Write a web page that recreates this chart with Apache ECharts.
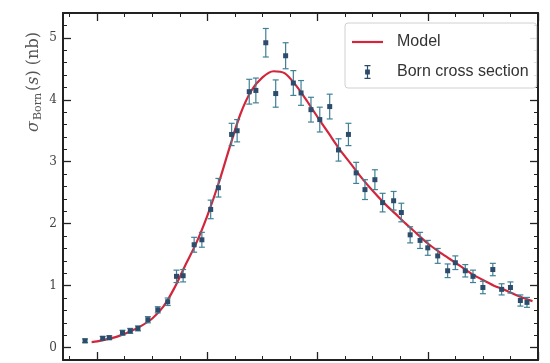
<!DOCTYPE html>
<html><head><meta charset="utf-8">
<script src="https://cdn.jsdelivr.net/npm/echarts@6/dist/echarts.min.js"></script>
<style>html,body{margin:0;padding:0;background:#fff}#c{width:550px;height:363px}</style>
</head><body><div id="c"></div>
<script>
// Measured points (sqrt(s), GeV) and Born cross section (nb)
const energies = [3.789,3.805,3.811,3.823,3.830,3.837,3.846,3.855,3.864,
  3.872,3.878,3.888,3.895,3.903,3.910,3.922,3.927,3.938,3.944,
  3.953,3.962,3.971,3.978,3.985,3.994,4.002,4.011,4.019,4.028,
  4.035,4.043,4.052,4.059,4.069,4.076,4.084,4.093,4.100,4.109,
  4.118,4.125,4.134,4.141,4.150,4.159,4.167,4.175,4.184,4.190];
const sigma = [0.11,0.15,0.16,0.24,0.27,0.31,0.45,0.61,0.74,
  1.15,1.16,1.66,1.74,2.23,2.58,3.44,3.50,4.13,4.15,
  4.92,4.10,4.71,4.27,4.11,3.84,3.68,3.89,3.19,3.44,
  2.82,2.55,2.71,2.34,2.37,2.18,1.82,1.73,1.61,1.48,
  1.24,1.37,1.24,1.15,0.97,1.26,0.94,0.97,0.76,0.73];
const sigmaErr = [0.03,0.03,0.03,0.04,0.04,0.04,0.05,0.05,0.06,
  0.10,0.10,0.12,0.12,0.15,0.15,0.18,0.18,0.20,0.20,
  0.23,0.22,0.21,0.20,0.20,0.20,0.20,0.20,0.18,0.18,
  0.17,0.16,0.16,0.15,0.15,0.15,0.13,0.13,0.12,0.12,
  0.11,0.11,0.10,0.10,0.10,0.10,0.09,0.09,0.09,0.08];
// Model curve
const modelX = [3.795,3.80,3.81,3.82,3.83,3.84,3.85,3.86,3.87,3.88,3.89,3.90,3.91,3.92,3.93,3.94,3.95,3.96,3.97,3.98,3.99,
  4.00,4.01,4.02,4.03,4.04,4.05,4.06,4.07,4.08,4.09,4.10,4.11,4.12,4.13,4.14,4.15,4.16,4.17,4.18,4.19,4.195];
const modelY = [0.09,0.10,0.14,0.19,0.26,0.35,0.47,0.66,0.96,1.33,1.69,2.13,2.64,3.22,3.77,4.15,4.36,4.46,4.43,4.24,3.99,
  3.72,3.46,3.20,2.97,2.74,2.53,2.34,2.17,2.00,1.84,1.68,1.55,1.43,1.31,1.19,1.09,1.00,0.93,0.85,0.78,0.75];
// Ticks
const yMajorTicks = [0,1,2,3,4,5];
const yMinorTicks = [-0.2,0.2,0.4,0.6,0.8,1.2,1.4,1.6,1.8,2.2,2.4,2.6,2.8,3.2,3.4,3.6,3.8,4.2,4.4,4.6,4.8,5.2];
const xMajorTicks = [3.8,3.9,4.0,4.1,4.2];
const xMinorTicks = [3.775,3.825,3.85,3.875,3.925,3.95,3.975,4.025,4.05,4.075,4.125,4.15,4.175];
const xMin = 3.769, xMax = 4.2, yMin = -0.2, yMax = 5.4;

const axisColor = '#222';
function mkAxis(position, min, max, ticks, len, showLine, showLabel) {
  return {
    type: 'value', position, min, max, offset: 0,
    axisLine: {show: showLine, onZero: false, lineStyle: {color: axisColor, width: 2}},
    axisTick: {show: true, inside: true, length: len, customValues: ticks, lineStyle: {color: axisColor, width: len > 5 ? 1.3 : 1}},
    axisLabel: {show: showLabel, customValues: ticks, margin: 6, fontFamily: 'DejaVu Serif', fontSize: 12, color: '#444',
      formatter: v => String(Math.round(v))},
    splitLine: {show: false}
  };
}

const chart = echarts.init(document.getElementById('c'), null, {renderer: 'canvas'});
chart.setOption({
  animation: false,
  backgroundColor: '#fff',
  grid: {left: 63, right: 12, top: 13, bottom: 3, containLabel: false},
  xAxis: [
    mkAxis('bottom', xMin, xMax, xMajorTicks, 8, true, false),
    mkAxis('bottom', xMin, xMax, xMinorTicks, 4, false, false),
    mkAxis('top', xMin, xMax, xMajorTicks, 8, true, false),
    mkAxis('top', xMin, xMax, xMinorTicks, 4, false, false)
  ],
  yAxis: [
    mkAxis('left', yMin, yMax, yMajorTicks, 8, true, true),
    mkAxis('left', yMin, yMax, yMinorTicks, 4, false, false),
    mkAxis('right', yMin, yMax, yMajorTicks, 8, true, false),
    mkAxis('right', yMin, yMax, yMinorTicks, 4, false, false)
  ],
  legend: {
    orient: 'vertical', left: 345, top: 23,
    padding: [11, 8, 8, 7], itemGap: 14, itemWidth: 31, itemHeight: 14,
    backgroundColor: 'rgba(255,255,255,0.85)', borderColor: '#d0d0d0', borderWidth: 1, borderRadius: 3,
    textStyle: {fontFamily: 'Liberation Sans', fontSize: 16, color: '#333', lineHeight: 16, padding: [0, 0, 0, 9]},
    data: [
      {name: 'Model', icon: 'path://M0,0H31V2.2H0Z'},
      {name: 'Born cross section', icon: 'path://M2,0H8V1.2H2Z M4.4,1.2H5.6V12.8H4.4Z M2,12.8H8V14H2Z M2.6,4.6H7.4V9.4H2.6Z'}
    ]
  },
  graphic: [{
    type: 'text', x: 34, y: 82, rotation: Math.PI / 2,
    style: {
      text: '{i|σ}{sub|Born}{n|(}{i|s}{n|) (nb)}',
      align: 'center', verticalAlign: 'middle', fill: '#555',
      rich: {
        i: {fontFamily: 'DejaVu Serif', fontStyle: 'italic', fontSize: 16, fill: '#555'},
        n: {fontFamily: 'DejaVu Serif', fontSize: 16, fill: '#555'},
        sub: {fontFamily: 'DejaVu Serif', fontSize: 11, fill: '#555', padding: [8, 2, 0, 1]}
      }
    }
  }],
  series: [
    {
      name: 'Model', type: 'line', xAxisIndex: 0, yAxisIndex: 0,
      data: modelX.map((x, i) => [x, modelY[i]]),
      smooth: 0.3, symbol: 'none', showSymbol: false,
      lineStyle: {color: '#d1263b', width: 2.2}, itemStyle: {color: '#d1263b'}, z: 2
    },
    {
      name: 'Born cross section', type: 'custom', xAxisIndex: 0, yAxisIndex: 0,
      data: energies.map((x, i) => [x, sigma[i], sigmaErr[i]]),
      encode: {x: 0, y: 1},
      itemStyle: {color: '#2d4c6c'}, z: 3,
      renderItem: function (params, api) {
        const x = api.value(0), y = api.value(1), e = api.value(2);
        const p = api.coord([x, y]), lo = api.coord([x, y - e]), hi = api.coord([x, y + e]);
        const cw = 3, ms = 2.5;
        const st = {stroke: '#3f8096', lineWidth: 1.2};
        return {type: 'group', children: [
          {type: 'line', shape: {x1: p[0], y1: lo[1], x2: p[0], y2: hi[1]}, style: st},
          {type: 'line', shape: {x1: p[0] - cw, y1: lo[1], x2: p[0] + cw, y2: lo[1]}, style: st},
          {type: 'line', shape: {x1: p[0] - cw, y1: hi[1], x2: p[0] + cw, y2: hi[1]}, style: st},
          {type: 'rect', shape: {x: p[0] - ms, y: p[1] - ms, width: 2 * ms, height: 2 * ms}, style: {fill: '#2d4c6c'}}
        ]};
      }
    }
  ]
});
</script>
</body></html>
